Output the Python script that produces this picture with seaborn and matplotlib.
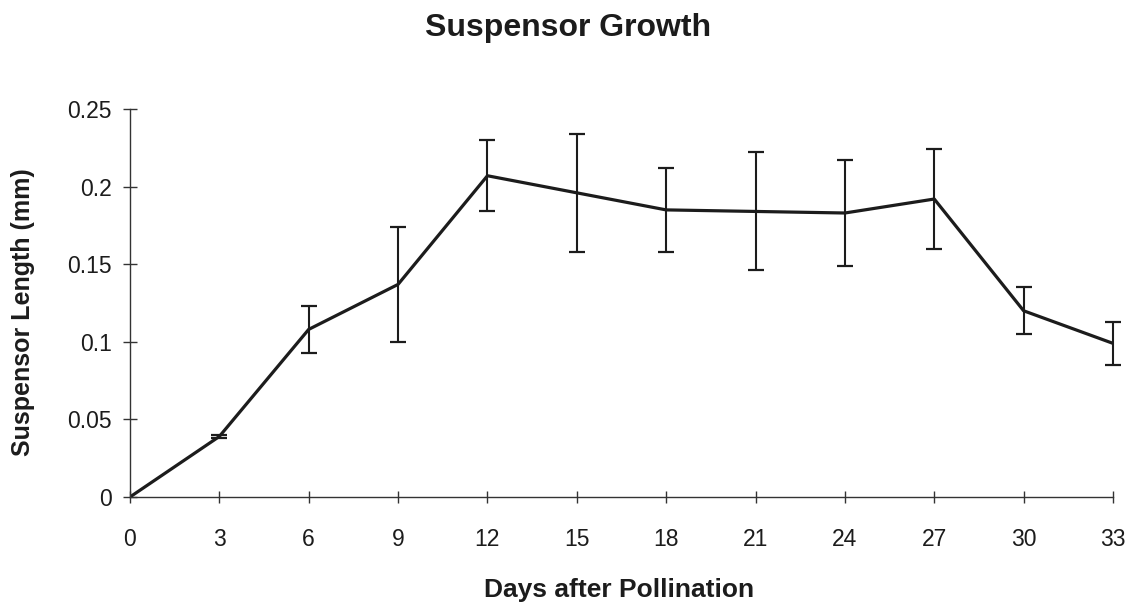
import matplotlib
matplotlib.use("Agg")
import matplotlib.pyplot as plt
import seaborn as sns
import pandas as pd

# Suspensor length measured every 3 days after pollination (mean ± error)
days = [0, 3, 6, 9, 12, 15, 18, 21, 24, 27, 30, 33]
length_mm = [0.0, 0.039, 0.108, 0.137, 0.207, 0.196, 0.185, 0.184, 0.183, 0.192, 0.120, 0.099]
error_mm = [0.0, 0.001, 0.015, 0.037, 0.023, 0.038, 0.027, 0.038, 0.034, 0.032, 0.015, 0.014]

x_ticks = days
y_ticks = [0, 0.05, 0.10, 0.15, 0.20, 0.25]
y_tick_labels = ["0", "0.05", "0.1", "0.15", "0.2", "0.25"]

df = pd.DataFrame({"day": days, "length": length_mm, "err": error_mm})

sns.set_theme(style="white")
plt.rcParams["font.family"] = ["Liberation Sans", "DejaVu Sans"]

ink = "#1c1c1c"
fig = plt.figure(figsize=(11.42, 6.07), dpi=100)
ax = fig.add_axes([0.1138, 0.1812, 0.8608, 0.6392])

sns.lineplot(data=df, x="day", y="length", color=ink, linewidth=2.3, ax=ax)

# error bars (skip the origin, which has none)
sub = df[df["err"] > 0]
bars = ax.errorbar(sub["day"], sub["length"], yerr=sub["err"], fmt="none",
                   ecolor=ink, elinewidth=1.5, capsize=5.8, capthick=1.6)
for artist in bars.lines[1] + bars.lines[2]:
    artist.set_clip_on(False)

ax.set_xlim(0, 33)
ax.set_ylim(0, 0.25)
ax.set_xticks(x_ticks)
ax.set_xticklabels([str(d) for d in x_ticks])
ax.set_yticks(y_ticks)
ax.set_yticklabels(y_tick_labels)

for side in ["top", "right"]:
    ax.spines[side].set_visible(False)
for side in ["left", "bottom"]:
    ax.spines[side].set_color("#333333")
    ax.spines[side].set_linewidth(1.0)

ax.tick_params(axis="y", left=True, direction="inout", length=9.5, width=1.0,
               color="#333333", labelsize=16.5, pad=8.5, labelcolor=ink)
ax.tick_params(axis="x", bottom=True, direction="inout", length=9, width=1.0,
               color="#333333", labelsize=16.5, pad=18, labelcolor=ink)

ax.set_xlabel("Days after Pollination", fontsize=19, fontweight="bold", color=ink)
ax.xaxis.set_label_coords(0.4975, -0.2397)
ax.xaxis.label.set_va("center")
ax.set_ylabel("Suspensor Length (mm)", fontsize=18, fontweight="bold", color=ink)
ax.yaxis.set_label_coords(-0.1088, 0.4768)
ax.yaxis.label.set_va("center")

ax.text(0.4456, 1.21, "Suspensor Growth", transform=ax.transAxes,
        ha="center", va="center", fontsize=23, fontweight="bold", color=ink)

ax.grid(False)
fig.savefig("out.png", dpi=100, facecolor="white")
